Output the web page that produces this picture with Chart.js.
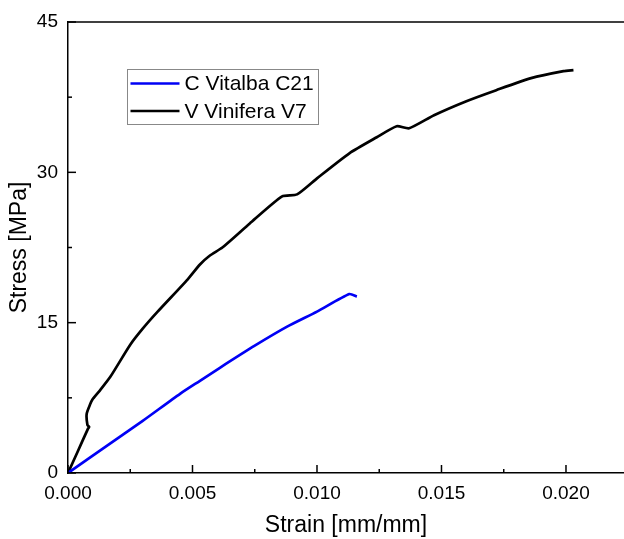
<!DOCTYPE html>
<html lang="en">
<head>
<meta charset="UTF-8">
<title>Stress vs Strain</title>
<script src="https://cdn.jsdelivr.net/npm/chart.js"></script>
<style>
  html, body { margin: 0; padding: 0; background: #fff; }
  #wrap { width: 624px; height: 539px; }
</style>
</head>
<body>
<div id="wrap"><canvas id="chart"></canvas></div>
<script>
// C Vitalba C21
const vitalbaStrain = [0, 0.0015, 0.003, 0.0045, 0.0053, 0.0061, 0.0075, 0.0088, 0.0100, 0.0113, 0.0116];
const vitalbaStress = [0, 2.6, 5.2, 7.9, 9.2, 10.5, 12.7, 14.6, 16.1, 17.85, 17.6];

// V Vinifera V7
const viniferaStrain = [0, 0.0004, 0.0008, 0.00085, 0.00078, 0.00075, 0.00088, 0.0010, 0.0013, 0.0017,
  0.0025, 0.0030, 0.0036, 0.0048, 0.0053, 0.0057, 0.0062, 0.0073, 0.0086, 0.0092, 0.0100, 0.0113,
  0.0124, 0.0132, 0.0137, 0.0147, 0.0160, 0.0172, 0.0186, 0.0199, 0.0203];
const viniferaStress = [0, 2.2, 4.4, 4.6, 4.8, 5.9, 6.8, 7.4, 8.3, 9.6,
  12.8, 14.4, 16.1, 19.3, 20.8, 21.7, 22.5, 24.9, 27.6, 27.8, 29.4, 31.9,
  33.5, 34.6, 34.4, 35.7, 37.1, 38.2, 39.4, 40.1, 40.2];

const xTicks = [0, 0.005, 0.010, 0.015, 0.020];
const xMinorTicks = [0.0025, 0.0075, 0.0125, 0.0175];
const yTicks = [0, 15, 30, 45];
const yMinorTicks = [7.5, 22.5, 37.5];

const toPoints = (xs, ys) => xs.map((v, i) => ({ x: v, y: ys[i] }));
const font = 'Liberation Sans, Arial, sans-serif';

const frame = {
  id: 'frame',
  afterDraw(chart) {
    const { ctx, chartArea: a, scales: { x, y } } = chart;
    ctx.save();
    ctx.strokeStyle = '#000';
    ctx.lineWidth = 1.5;
    ctx.beginPath();
    ctx.moveTo(a.left, a.top);
    ctx.lineTo(a.right, a.top);
    ctx.stroke();

    // inward tick marks
    const xMark = (vals, len) => vals.forEach(v => {
      const px = x.getPixelForValue(v);
      ctx.beginPath(); ctx.moveTo(px, a.bottom); ctx.lineTo(px, a.bottom - len); ctx.stroke();
    });
    const yMark = (vals, len) => vals.forEach(v => {
      const py = y.getPixelForValue(v);
      ctx.beginPath(); ctx.moveTo(a.left, py); ctx.lineTo(a.left + len, py); ctx.stroke();
    });
    xMark(xTicks, 8); xMark(xMinorTicks, 4);
    yMark(yTicks, 8); yMark(yMinorTicks, 4);

    // legend box
    const bx = a.left + 59.5, by = a.top + 47.5;
    ctx.strokeStyle = '#888';
    ctx.lineWidth = 1;
    ctx.strokeRect(bx, by, 191, 55);
    ctx.font = '21px ' + font;
    ctx.textBaseline = 'middle';
    ctx.fillStyle = '#000';
    chart.data.datasets.forEach((ds, i) => {
      const ly = by + 14 + i * 27.5;
      ctx.strokeStyle = ds.borderColor;
      ctx.lineWidth = 2.5;
      ctx.beginPath(); ctx.moveTo(bx + 3, ly); ctx.lineTo(bx + 52, ly); ctx.stroke();
      ctx.fillText(ds.label, bx + 57, ly + 1);
    });
    ctx.restore();
  }
};

new Chart(document.getElementById('chart'), {
  type: 'line',
  data: {
    datasets: [
      {
        label: 'C Vitalba C21',
        data: toPoints(vitalbaStrain, vitalbaStress),
        borderColor: '#0000f5',
        borderWidth: 2.7,
        pointRadius: 0,
        tension: 0.2
      },
      {
        label: 'V Vinifera V7',
        data: toPoints(viniferaStrain, viniferaStress),
        borderColor: '#000000',
        borderWidth: 2.7,
        pointRadius: 0,
        tension: 0.2
      }
    ]
  },
  options: {
    responsive: true,
    maintainAspectRatio: false,
    animation: false,
    layout: { padding: { top: 22, right: 0, left: 0, bottom: 0 } },
    plugins: { legend: { display: false }, tooltip: { enabled: false } },
    scales: {
      x: {
        type: 'linear',
        min: 0,
        max: 0.02233,
        afterBuildTicks: s => { s.ticks = xTicks.map(v => ({ value: v })); },
        afterFit: s => { s.height = 66; },
        grid: { display: false, drawTicks: false },
        border: { display: true, color: '#000', width: 1.5 },
        ticks: {
          color: '#000',
          padding: 9,
          maxRotation: 0,
          font: { family: font, size: 19 },
          callback: v => v.toFixed(3)
        },
        title: {
          display: true,
          text: 'Strain [mm/mm]',
          color: '#000',
          padding: { top: 0, bottom: 0 },
          font: { family: font, size: 23 }
        }
      },
      y: {
        min: 0,
        max: 45,
        afterBuildTicks: s => { s.ticks = yTicks.map(v => ({ value: v })); },
        afterFit: s => { s.width = 68; },
        grid: { display: false, drawTicks: false },
        border: { display: true, color: '#000', width: 1.5 },
        ticks: {
          color: '#000',
          padding: 10,
          font: { family: font, size: 19 }
        },
        title: {
          display: true,
          text: 'Stress [MPa]',
          color: '#000',
          padding: { top: 6, bottom: 0 },
          font: { family: font, size: 23 }
        }
      }
    }
  },
  plugins: [frame]
});
</script>
</body>
</html>
